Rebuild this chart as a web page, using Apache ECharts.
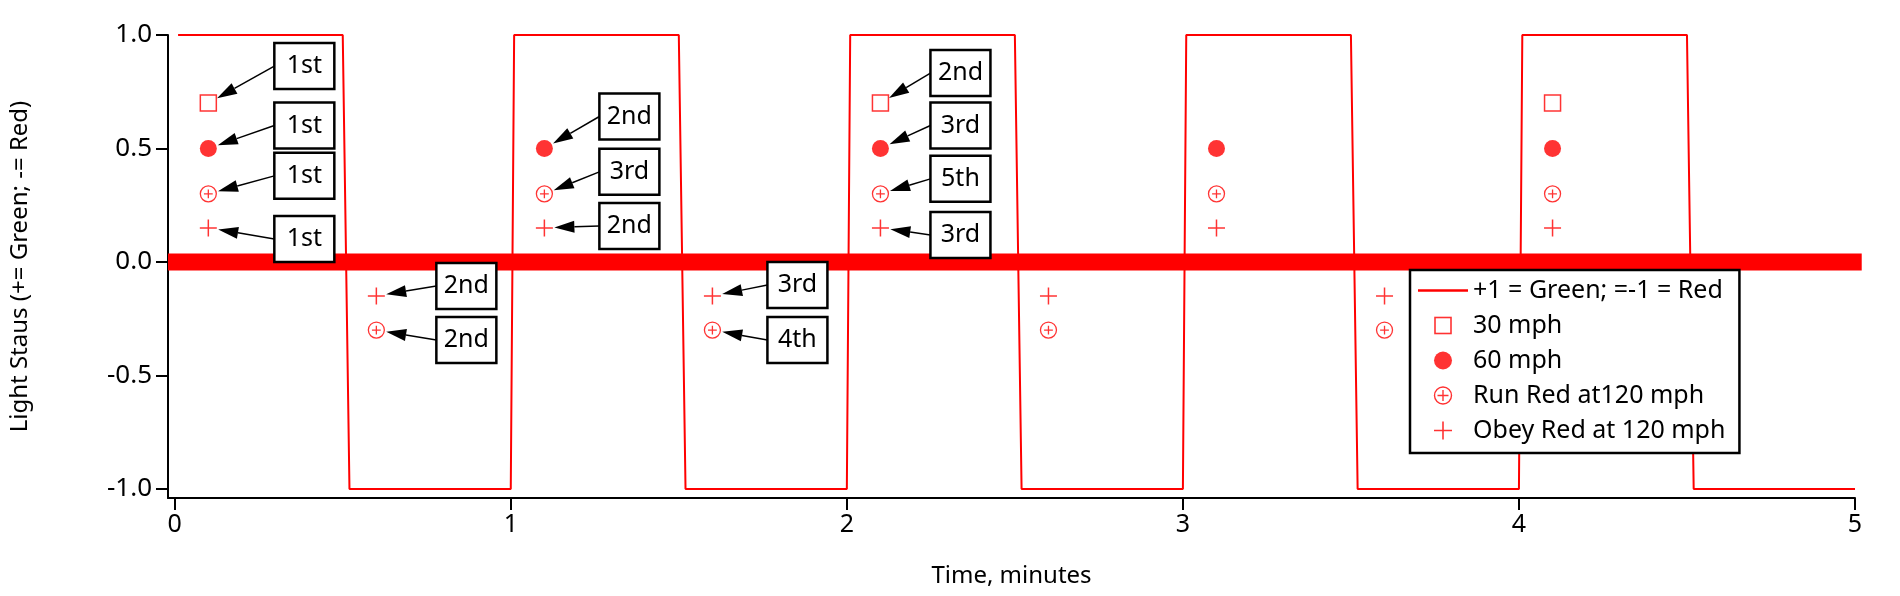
<!DOCTYPE html>
<html><head><meta charset="utf-8">
<script src="https://cdn.jsdelivr.net/npm/echarts@6/dist/echarts.min.js"></script>
<style>html,body{margin:0;padding:0;background:#fff}#c{width:1900px;height:596px}</style>
</head><body><div id="c"></div>
<script>
const lightStatus = [[0.01,1],[0.5,1],[0.52,-1],[1.0,-1],[1.01,1],[1.5,1],[1.52,-1],[2.0,-1],[2.01,1],[2.5,1],[2.52,-1],[3.0,-1],[3.01,1],[3.5,1],[3.52,-1],[4.0,-1],[4.01,1],[4.5,1],[4.52,-1],[5.0,-1]];
const zeroLine = [[-0.02,0],[5.02,0]];
const mph30 = [[0.1,0.7],[2.1,0.7],[4.1,0.7]];
const mph60 = [[0.1,0.5],[1.1,0.5],[2.1,0.5],[3.1,0.5],[4.1,0.5]];
const runRed = [[0.1,0.3],[1.1,0.3],[2.1,0.3],[3.1,0.3],[4.1,0.3],[0.6,-0.3],[1.6,-0.3],[2.6,-0.3],[3.6,-0.3]];
const obeyRed = [[0.1,0.15],[1.1,0.15],[2.1,0.15],[3.1,0.15],[4.1,0.15],[0.6,-0.15],[1.6,-0.15],[2.6,-0.15],[3.6,-0.15]];
const legendNames = ['+1 = Green; =-1 = Red','30 mph','60 mph','Run Red at120 mph','Obey Red at 120 mph'];
// annotations: point x, point y, label
const annotations = [
 [0.1,0.7,'1st'],[0.1,0.5,'1st'],[0.1,0.3,'1st'],[0.1,0.15,'1st'],
 [0.6,-0.15,'2nd'],[0.6,-0.3,'2nd'],
 [1.1,0.5,'2nd'],[1.1,0.3,'3rd'],[1.1,0.15,'2nd'],
 [1.6,-0.15,'3rd'],[1.6,-0.3,'4th'],
 [2.1,0.7,'2nd'],[2.1,0.5,'3rd'],[2.1,0.3,'5th'],[2.1,0.15,'3rd']
];
// box offsets from the point, in pixels
const boxOffsets = [
 [96,-37],[96,-23],[96,-18],[96,11],
 [90,-10],[90,10],
 [85,-32],[85,-22],[85,-2],
 [85,-11],[85,10],
 [80,-30],[80,-23],[80,-15],[80,7]
];
const RED = '#ff0000';
const ringPlus = 'path://M0,-10A10,10 0 1,1 0,10A10,10 0 1,1 0,-10Z M-5.5,0L5.5,0 M0,-5.5L0,5.5';
const plus = 'path://M0,-10L0,10 M-10,0L10,0';
const FONT = 'Noto Sans';
function svgIcon(body){
  return 'image://data:image/svg+xml;charset=utf-8,' + encodeURIComponent(
    '<svg xmlns="http://www.w3.org/2000/svg" width="50" height="24" viewBox="0 0 50 24">'+body+'</svg>');
}
const icons = [
  svgIcon('<line x1="0" y1="12" x2="50" y2="12" stroke="#ff0000" stroke-width="2.5"/>'),
  svgIcon('<rect x="17" y="4" width="16" height="16" fill="none" stroke="#ff0000" stroke-width="1.6"/>'),
  svgIcon('<circle cx="25" cy="12" r="9" fill="#ff0000"/>'),
  svgIcon('<circle cx="25" cy="12" r="8.5" fill="none" stroke="#ff0000" stroke-width="1.4"/><path d="M19.5,12H30.5M25,6.5V17.5" stroke="#ff0000" stroke-width="1.4"/>'),
  svgIcon('<path d="M16,12H34M25,3V21" stroke="#ff0000" stroke-width="1.6"/>')
];
const chart = echarts.init(document.getElementById('c'));
chart.setOption({
  animation:false,
  textStyle:{fontFamily:FONT},
  grid:{left:168,right:45,top:35,bottom:98},
  xAxis:{type:'value',min:-0.02,max:5,interval:1,
    axisLine:{show:true,onZero:false,lineStyle:{color:'#000',width:2}},
    axisTick:{show:true,length:12,inside:false,lineStyle:{color:'#000',width:2},customValues:[0,1,2,3,4,5]},
    axisLabel:{color:'#000',fontSize:25,margin:14,customValues:[0,1,2,3,4,5]},
    splitLine:{show:false},
    name:'Time, minutes',nameLocation:'middle',nameGap:66,nameTextStyle:{color:'#000',fontSize:24}},
  yAxis:{type:'value',min:-1.04,max:1,
    axisLine:{show:true,onZero:false,lineStyle:{color:'#000',width:2}},
    axisTick:{show:true,length:12,lineStyle:{color:'#000',width:2},customValues:[-1,-0.5,0,0.5,1]},
    axisLabel:{color:'#000',fontSize:26,margin:16,customValues:[-1,-0.5,0,0.5,1],formatter:v=>v.toFixed(1)},
    splitLine:{show:false},
    name:'Light Staus (+= Green; -= Red)',nameLocation:'middle',nameGap:136,nameTextStyle:{color:'#000',fontSize:24}},
  legend:{orient:'vertical',left:1410,top:270,backgroundColor:'#fff',borderColor:'#000',borderWidth:2.5,
    padding:[8,14,10,8],itemGap:10,itemWidth:50,itemHeight:24,
    textStyle:{fontSize:25,color:'#000',fontFamily:FONT},
    data:legendNames.map((n,i)=>({name:n,icon:icons[i]}))},
  series:[
    {name:legendNames[0],type:'line',data:lightStatus,symbol:'none',lineStyle:{color:RED,width:2},itemStyle:{color:RED},z:2},
    {name:'zero',type:'line',data:zeroLine,symbol:'none',lineStyle:{color:RED,width:17},z:3,silent:true},
    {name:legendNames[1],type:'scatter',data:mph30,symbol:'rect',symbolSize:16,itemStyle:{color:'#fff',borderColor:RED,borderWidth:1.5},z:4},
    {name:legendNames[2],type:'scatter',data:mph60,symbol:'circle',symbolSize:17,itemStyle:{color:RED},z:4},
    {name:legendNames[3],type:'scatter',data:runRed,symbol:ringPlus,symbolSize:16,itemStyle:{color:'rgba(0,0,0,0)',borderColor:RED,borderWidth:1.3},z:4},
    {name:legendNames[4],type:'scatter',data:obeyRed,symbol:plus,symbolSize:17,itemStyle:{color:'rgba(0,0,0,0)',borderColor:RED,borderWidth:1.5},z:4},
    {name:'ann',type:'custom',clip:false,z:10,silent:true,
     data:annotations.map((a,i)=>[a[0],a[1],i]),
     renderItem:function(params,api){
       const i=api.value(2);
       const a=annotations[i], off=boxOffsets[i];
       const p=api.coord([a[0],a[1]]);
       const w=60,h=46;
       const cx=p[0]+off[0], cy=p[1]+off[1];
       const sx=cx-w/2, sy=cy;
       const dx=sx-p[0], dy=sy-p[1], L=Math.hypot(dx,dy);
       const ux=dx/L, uy=dy/L;
       const tx=p[0]+ux*10, ty=p[1]+uy*10;
       const hl=20, hw=6;
       const bx=tx+ux*hl, by=ty+uy*hl;
       return {type:'group',children:[
         {type:'line',shape:{x1:sx,y1:sy,x2:bx,y2:by},style:{stroke:'#000',lineWidth:1.5}},
         {type:'polygon',shape:{points:[[tx,ty],[bx-uy*hw,by+ux*hw],[bx+uy*hw,by-ux*hw]]},style:{fill:'#000'}},
         {type:'rect',shape:{x:cx-w/2,y:cy-h/2,width:w,height:h},style:{fill:'#fff',stroke:'#000',lineWidth:2.5}},
         {type:'text',style:{text:a[2],x:cx,y:cy,align:'center',verticalAlign:'middle',fontSize:25,fontFamily:FONT,fill:'#000'}}
       ]};
     }}
  ]
});
</script></body></html>
